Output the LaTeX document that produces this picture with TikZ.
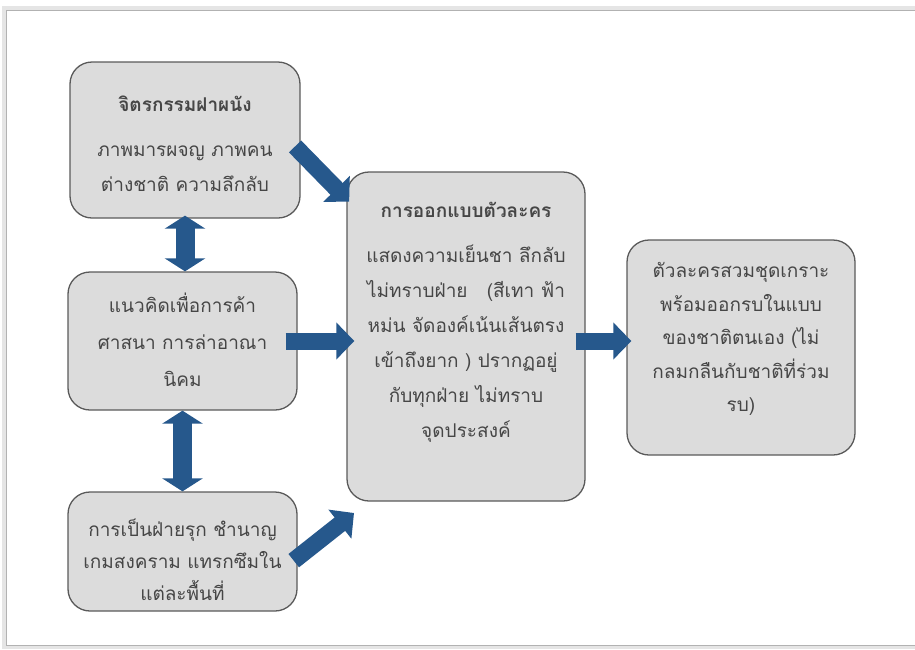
\documentclass[tikz,border=0pt]{standalone}
\usepackage{fontspec}
\newfontfamily\thaifont[Script=Thai]{Loma}
\usetikzlibrary{arrows.meta}
\definecolor{boxgray}{RGB}{220,220,220}
\definecolor{boxline}{RGB}{90,90,90}
\definecolor{arrowblue}{RGB}{38,88,140}
\definecolor{textgray}{RGB}{70,70,70}

\tikzset{
  panel/.style={draw=boxline, line width=1.3pt, fill=boxgray, rounded corners=22pt, inner sep=0pt},
  paneltext/.style={align=center, text=textgray, inner sep=0pt, font=\thaifont\fontsize{19}{35}\selectfont},
  oneway/.style={arrowblue, line width=17pt, -{Triangle[width=36pt,length=18pt]}},
  twoway/.style={arrowblue, line width=19pt, {Triangle[width=40pt,length=13pt]}-{Triangle[width=40pt,length=13pt]}},
}

\begin{document}
\begin{tikzpicture}[x=1pt, y=-1pt]
          \useasboundingbox (0,0) rectangle (915,649);

          % page frame with a soft shadow
          \draw [black!10, line width=4pt] (920,8) -- (4,8) -- (4,647) -- (920,647);
          \draw [black!30, line width=1pt] (920,10) -- (6,10) -- (6,645) -- (920,645);

          % boxes
          \node[panel, minimum width=230pt, minimum height=156pt] (mural) at (185,140) {};
          \node[panel, minimum width=229pt, minimum height=138pt] (trade) at (182.5,341) {};
          \node[panel, minimum width=229pt, minimum height=119pt] (offense) at (182.5,551.5) {};
          \node[panel, minimum width=238pt, minimum height=329pt] (design) at (466,336.5) {};
          \node[panel, minimum width=228pt, minimum height=215pt] (result) at (741,347.5) {};

          % texts
          \node[paneltext] (muraltext) at (185,144)
            {\textbf{จิตรกรรมฝาผนัง}\\[10pt] ภาพมารผจญ ภาพคน\\ ต่างชาติ ความลึกลับ};
          \node[paneltext, font=\thaifont\fontsize{19}{37}\selectfont] (tradetext) at (182.5,340)
            {แนวคิดเพื่อการค้า\\ ศาสนา การล่าอาณา\\ นิคม};
          \node[paneltext, font=\thaifont\fontsize{19}{32}\selectfont] (offensetext) at (182.5,560)
            {การเป็นฝ่ายรุก ชำนาญ\\ เกมสงคราม แทรกซึมใน\\ แต่ละพื้นที่};
          \node[paneltext] (designtext) at (466,322.5)
            {\textbf{การออกแบบตัวละคร}\\[10pt] แสดงความเย็นชา ลึกลับ\\ ไม่ทราบฝ่าย\ \ \ (สีเทา ฟ้า\\
             หม่น จัดองค์เน้นเส้นตรง\\ เข้าถึงยาก ) ปรากฏอยู่\\ กับทุกฝ่าย ไม่ทราบ\\ จุดประสงค์};
          \node[paneltext, font=\thaifont\fontsize{19}{33.5}\selectfont] (resulttext) at (741,339)
            {ตัวละครสวมชุดเกราะ\\ พร้อมออกรบในแบบ\\ ของชาติตนเอง (ไม่\\ กลมกลืนกับชาติที่ร่วม\\ รบ)};

          % block arrows
          \coordinate (intodesign) at (354,513);
          \draw [twoway, shorten <=-3pt] (mural.south) -- (mural.south |- trade.north);
          \draw [twoway] (trade.south) -- (trade.south |- offense.north);
          \draw [oneway, shorten <=-8pt, shorten >=-4pt] (mural.-6) -- (design.131);
          \draw [oneway, shorten <=-12pt, shorten >=-8pt] (trade.east) -- (trade.east -| design.west);
          \draw [oneway, shorten <=-5pt] (offense.-3) -- (intodesign);
          \draw [oneway, shorten <=-10pt, shorten >=-5pt] (design.east |- trade.east) -- (result.west |- trade.east);

        \end{tikzpicture}
\end{document}
